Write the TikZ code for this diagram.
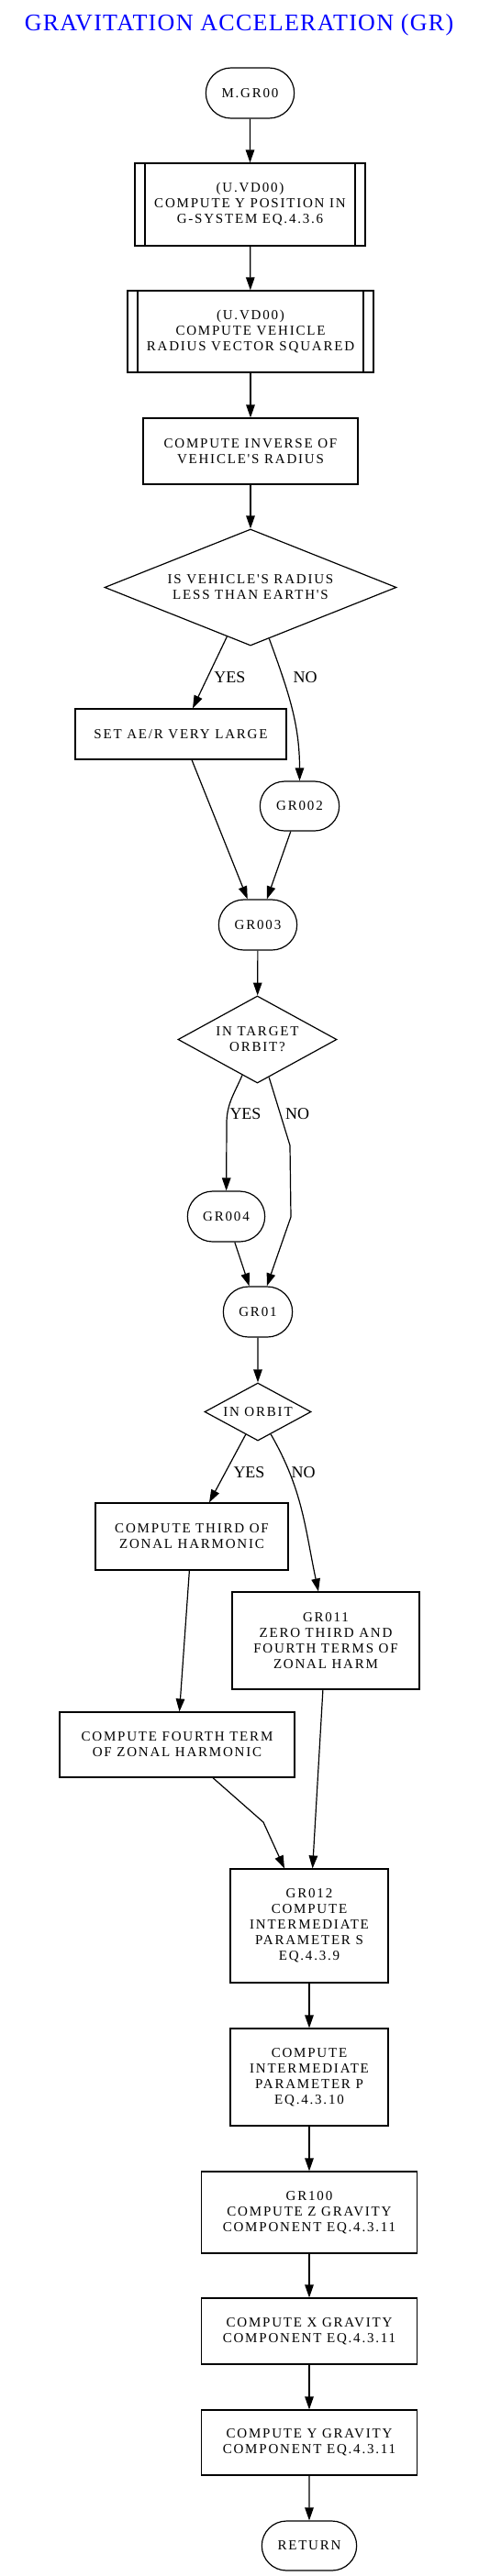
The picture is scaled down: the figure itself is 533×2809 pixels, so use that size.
\documentclass[tikz,border=0pt]{standalone}
\usepackage{fontspec}
\setmainfont{Liberation Serif}
\newfontfamily\boxfont{Liberation Serif}[LetterSpace=12]
\newfontfamily\titlefont{Liberation Serif}[LetterSpace=5]
\usetikzlibrary{arrows.meta, shapes.geometric, shapes.misc}
\definecolor{titleblue}{RGB}{0,0,255}
\tikzset{
    boxtext/.style={font=\boxfont\fontsize{15}{17}\selectfont, align=center},
    proc/.style={boxtext, draw, rectangle, inner sep=2pt},
    subproc/.style={proc,
        path picture={
            \draw ([xshift=11pt]path picture bounding box.north west) -- ([xshift=11pt]path picture bounding box.south west);
            \draw ([xshift=-11pt]path picture bounding box.north east) -- ([xshift=-11pt]path picture bounding box.south east);
        }
    },
    term/.style={boxtext, draw, rounded rectangle},
    decision/.style={boxtext, draw, diamond, inner sep=0pt},
    lbl/.style={font=\fontsize{18}{20}\selectfont, anchor=base, inner sep=0pt},
    arr/.style={-{Triangle[length=14pt, width=9.5pt]}}
}

\begin{document}
\begin{tikzpicture}[x=1pt, y=1pt, line width=1.2pt]

    \useasboundingbox (0,0) rectangle (533,-2809);

    % Titre
    \node[font=\titlefont\fontsize{26}{28}\selectfont, text=titleblue, anchor=base, inner sep=0pt]
        (title) at (260.5,-33) {GRAVITATION ACCELERATION (GR)};

    % Entrée et sous-programmes
    \node[term, minimum width=103pt, minimum height=55pt] (m) at (272.5,-101.5) {M.GR00};
    \node[subproc, minimum width=251pt, minimum height=90pt] (vd1) at (272.5,-223)
        {(U.VD00)\\COMPUTE Y POSITION IN\\G-SYSTEM EQ.4.3.6};
    \node[subproc, minimum width=268pt, minimum height=89pt] (vd2) at (273,-361.5)
        {(U.VD00)\\COMPUTE VEHICLE\\RADIUS VECTOR SQUARED};
    \node[proc, minimum width=234pt, minimum height=72pt] (inv) at (273,-492)
        {COMPUTE INVERSE OF\\VEHICLE'S RADIUS};

    % Premier test
    \node[decision, aspect=2.5, minimum width=318pt, minimum height=127pt] (rad) at (273,-640.5)
        {IS VEHICLE'S RADIUS\\LESS THAN EARTH'S};
    \node[proc, minimum width=230pt, minimum height=55pt] (big) at (197,-800.5) {SET AE/R VERY LARGE};
    \node[term, minimum width=93pt, minimum height=54pt] (g002) at (326.5,-879) {GR002};
    \node[term, minimum width=92pt, minimum height=55pt] (g003) at (281,-1008.5) {GR003};

    % Deuxième test
    \node[decision, aspect=1.82, minimum width=173pt, minimum height=95pt] (tgt) at (280.5,-1133.5)
        {IN TARGET\\ORBIT?};
    \node[term, minimum width=91pt, minimum height=55pt] (g004) at (246.5,-1326.5) {GR004};
    \node[term, minimum width=82pt, minimum height=55pt] (g01) at (281,-1430.5) {GR01};

    % Troisième test
    \node[decision, aspect=1.84, minimum width=116pt, minimum height=63pt] (orb) at (281,-1539.5) {IN ORBIT};
    \node[proc, minimum width=210pt, minimum height=73pt] (zh3) at (209,-1675.5)
        {COMPUTE THIRD OF\\ZONAL HARMONIC};
    \node[proc, minimum width=204pt, minimum height=106pt] (g011) at (355,-1789)
        {GR011\\ZERO THIRD AND\\FOURTH TERMS OF\\ZONAL HARM};
    \node[proc, minimum width=256pt, minimum height=71pt] (zh4) at (193,-1902.5)
        {COMPUTE FOURTH TERM\\OF ZONAL HARMONIC};

    % Fin du calcul
    \node[proc, minimum width=172pt, minimum height=124pt] (g012) at (337,-2100)
        {GR012\\COMPUTE\\INTERMEDIATE\\PARAMETER S\\EQ.4.3.9};
    \node[proc, minimum width=172pt, minimum height=106pt] (parp) at (337,-2265)
        {COMPUTE\\INTERMEDIATE\\PARAMETER P\\EQ.4.3.10};
    \node[proc, minimum width=235pt, minimum height=89pt] (g100) at (337,-2412.5)
        {GR100\\COMPUTE Z GRAVITY\\COMPONENT EQ.4.3.11};
    \node[proc, minimum width=235pt, minimum height=72pt] (gx) at (337,-2542)
        {COMPUTE X GRAVITY\\COMPONENT EQ.4.3.11};
    \node[proc, minimum width=235pt, minimum height=71pt] (gy) at (337,-2663.5)
        {COMPUTE Y GRAVITY\\COMPONENT EQ.4.3.11};
    \node[term, minimum width=110pt, minimum height=54pt] (ret) at (337,-2776) {RETURN};

    % Étiquettes
    \node[lbl] (yes1) at (250.5,-744) {YES};
    \node[lbl] (no1) at (332.5,-744) {NO};
    \node[lbl] (yes2) at (267.5,-1220) {YES};
    \node[lbl] (no2) at (324,-1220) {NO};
    \node[lbl] (yes3) at (271.5,-1611) {YES};
    \node[lbl] (no3) at (330.5,-1611) {NO};

    \coordinate (tyes) at (247,-1225);
    \coordinate (tno1) at (316,-1249);
    \coordinate (tno2) at (317,-1327);
    \coordinate (fk) at (287,-1987);

    % Flèches
    \draw[arr] (m) -- (vd1);
    \draw[arr] (vd1) -- (vd2);
    \draw[arr] (vd2) -- (inv);
    \draw[arr] (inv) -- (rad);
    \draw[arr] (rad) -- ([xshift=13pt]big.north);
    \draw[arr] (rad) to[out=-70, in=90] (g002);
    \draw[arr] ([xshift=12pt]big.south) -- (g003);
    \draw[arr] (g002) -- (g003);
    \draw[arr] (g003) -- (tgt);
    \draw[arr] (tgt) to[out=-113, in=90] (tyes) -- (g004);
    \draw[arr] (tgt) -- (tno1) -- (tno2) -- (g01);
    \draw[arr] (g004) -- (g01);
    \draw[arr] (g01) -- (orb);
    \draw[arr] (orb) -- ([xshift=19pt]zh3.north);
    \draw[arr] (orb) to[out=-60, in=102] ([xshift=-8pt]g011.north);
    \draw[arr] (zh3) -- (zh4);
    \draw[arr] ([xshift=39pt]zh4.south) -- (fk) -- ([xshift=-27pt]g012.north);
    \draw[arr] (g011) -- (g012);
    \draw[arr] (g012) -- (parp);
    \draw[arr] (parp) -- (g100);
    \draw[arr] (g100) -- (gx);
    \draw[arr] (gx) -- (gy);
    \draw[arr] (gy) -- (ret);

\end{tikzpicture}
\end{document}
